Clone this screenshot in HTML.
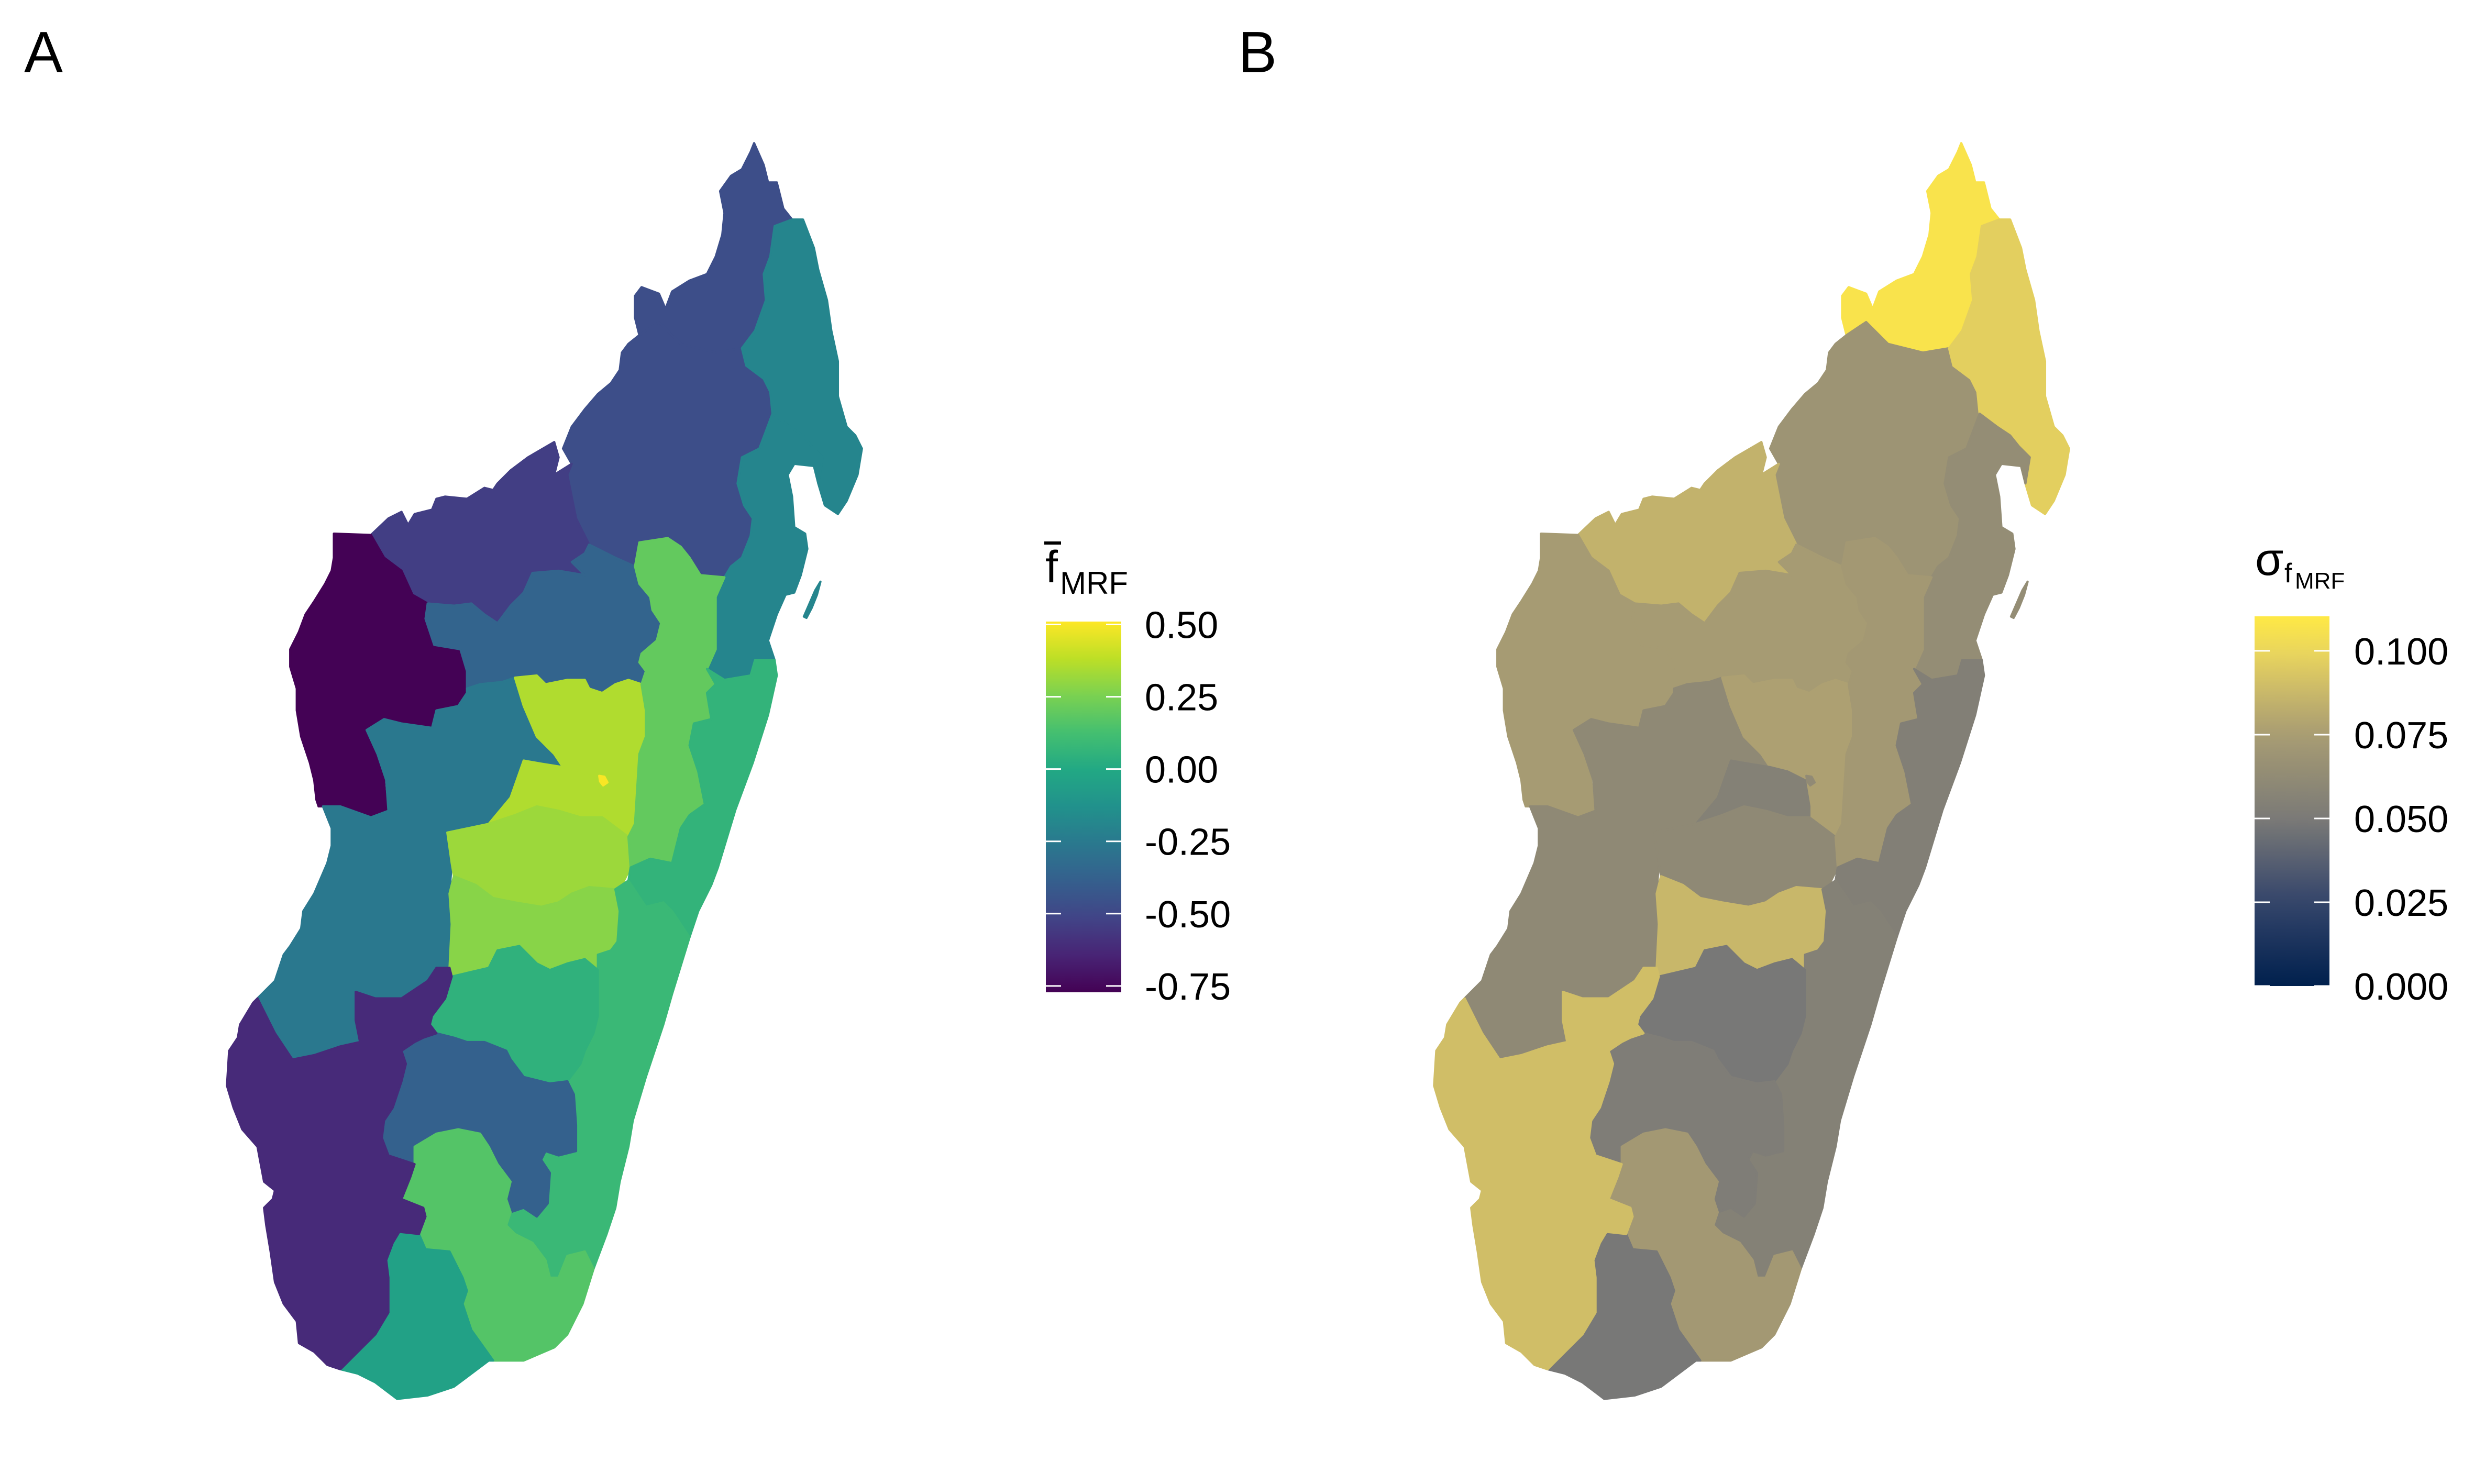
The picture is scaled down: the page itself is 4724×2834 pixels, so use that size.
<!DOCTYPE html>
<html><head><meta charset="utf-8"><style>
html,body{margin:0;padding:0;background:#fff;}
svg{display:block;}
text{font-family:"Liberation Sans",Arial,sans-serif;fill:#000;}
</style></head><body>
<svg id="fig" width="4724" height="2834" viewBox="0 0 4724 2834" xmlns="http://www.w3.org/2000/svg">
<rect width="4724" height="2834" fill="#fff"/>
<text x="46" y="138" font-size="111">A</text>
<text x="2364" y="138" font-size="111">B</text>
<g id="mapA" transform="translate(400,240) scale(0.8333)"></g>
<g id="mapB" transform="translate(2705,240) scale(0.8333)"></g>
<defs>
<linearGradient id="gradA" x1="0" y1="1" x2="0" y2="0"></linearGradient>
<linearGradient id="gradB" x1="0" y1="1" x2="0" y2="0"></linearGradient>
</defs>
<g>
<text x="1996" y="1112" font-size="86">f</text>
<rect x="1994" y="1034" width="32" height="6" fill="#000"/>
<text x="2024" y="1134" font-size="60">MRF</text>
<rect id="barA" x="1997" y="1187" width="144" height="708" fill="url(#gradA)"/>
<g id="ticksA"></g>
</g>
<g>
<text x="4306" y="1098" font-size="88">σ</text>
<text x="4362" y="1112" font-size="52">f</text>
<text x="4382" y="1124" font-size="44">MRF</text>
<rect id="barB" x="4305" y="1177" width="143" height="706" fill="url(#gradB)"/>
<g id="ticksB"></g>
</g>
</svg>
<script>
// ---- data ----
const regionNames = ["diana","sofia","sava","analanjirofo","boeny","melaky","betsiboka","menabe","vakinankaratra","vakinankaratra-south","analamanga-south","amoron-i-mania","alaotra-mangoro","atsinanana","vatovavy","haute-matsiatra","ihorombe","atsimo-atsinanana","anosy","atsimo-andrefana","urban-spot","nosy-boraha"];
const meanValues = [-0.47,-0.47,-0.195,-0.19,-0.54,-0.77,-0.36,-0.26,0.356,0.356,0.318,0.28,0.20,0.06,0.087,0.05,-0.375,0.164,-0.041,-0.618,0.50,-0.19];
const sdValues = [0.107,0.069,0.097,0.064,0.085,0.074,0.074,0.061,0.077,0.055,0.061,0.087,0.072,0.054,0.055,0.049,0.052,0.072,0.049,0.090,0.062,0.064];
const meanTicks = [0.50,0.25,0.00,-0.25,-0.50,-0.75];
const meanTickLabels = ["0.50","0.25","0.00","-0.25","-0.50","-0.75"];
const sdTicks = [0.100,0.075,0.050,0.025,0.000];
const sdTickLabels = ["0.100","0.075","0.050","0.025","0.000"];
const meanDomain = [-0.772, 0.51];
const sdDomain = [0.0, 0.1103];

// ---- geometry (map units) ----
const shapes = [
[[985,480],[975,440],[975,390],[990,370],[1030,385],[1045,420],[1060,380],[1100,355],[1140,340],[1160,300],[1175,250],[1180,200],[1170,150],[1195,115],[1220,100],[1240,60],[1248,40],[1270,90],[1280,130],[1300,130],[1315,190],[1335,215],[1295,230],[1285,300],[1270,340],[1275,400],[1250,470],[1220,510],[1160,520],[1080,500],[1030,450]],
[[985,480],[1030,450],[1080,500],[1160,520],[1220,510],[1230,550],[1270,580],[1285,610],[1290,660],[1275,700],[1260,740],[1220,760],[1210,820],[1225,870],[1245,900],[1240,940],[1220,990],[1195,1010],[1180,1035],[1125,1030],[1100,990],[1080,965],[1050,945],[985,955],[975,1010],[930,990],[870,960],[840,900],[830,850],[820,800],[830,775],[810,740],[830,690],[860,650],[890,615],[920,590],[940,560],[945,520],[960,500]],
[[1335,215],[1360,215],[1385,280],[1395,330],[1415,400],[1425,470],[1440,540],[1440,620],[1460,690],[1480,710],[1495,740],[1485,800],[1460,860],[1440,890],[1410,870],[1395,820],[1405,760],[1380,735],[1360,710],[1330,690],[1290,660],[1285,610],[1270,580],[1230,550],[1220,510],[1250,470],[1275,400],[1270,340],[1285,300],[1295,230]],
[[1290,660],[1330,690],[1360,710],[1380,735],[1405,760],[1395,820],[1385,780],[1340,775],[1325,800],[1335,850],[1340,920],[1365,935],[1370,970],[1355,1030],[1340,1070],[1320,1075],[1300,1120],[1280,1180],[1295,1225],[1250,1225],[1240,1260],[1180,1270],[1140,1245],[1160,1200],[1160,1080],[1180,1035],[1195,1010],[1220,990],[1240,940],[1245,900],[1225,870],[1210,820],[1220,760],[1260,740],[1275,700]],
[[370,938],[410,900],[440,885],[455,915],[470,890],[510,880],[520,855],[540,850],[590,855],[630,830],[650,835],[660,820],[690,790],[730,760],[790,725],[800,760],[790,800],[830,775],[820,800],[830,850],[840,900],[870,960],[860,980],[830,1000],[860,1030],[800,1020],[740,1025],[720,1070],[690,1100],[660,1140],[630,1120],[600,1095],[560,1100],[500,1095],[465,1075],[440,1020],[400,990]],
[[285,935],[370,938],[400,990],[440,1020],[465,1075],[500,1095],[495,1130],[515,1190],[575,1200],[590,1250],[590,1300],[570,1330],[520,1340],[510,1380],[440,1370],[400,1360],[360,1385],[385,1440],[400,1500],[405,1560],[410,1570],[370,1585],[300,1560],[250,1560],[245,1545],[240,1500],[230,1460],[210,1400],[200,1340],[200,1290],[185,1240],[185,1200],[205,1160],[220,1120],[240,1090],[265,1050],[280,1020],[285,990]],
[[500,1095],[560,1100],[600,1095],[630,1120],[660,1140],[690,1100],[720,1070],[740,1025],[800,1020],[860,1030],[830,1000],[860,980],[870,960],[930,990],[975,1010],[985,1050],[1010,1080],[1015,1110],[1035,1140],[1025,1180],[990,1210],[985,1230],[1000,1250],[990,1280],[960,1270],[930,1280],[900,1300],[870,1290],[860,1270],[820,1270],[770,1280],[750,1260],[700,1265],[670,1275],[620,1280],[590,1290],[590,1250],[575,1200],[515,1190],[495,1130]],
[[590,1290],[620,1280],[670,1275],[700,1265],[720,1330],[750,1400],[790,1440],[810,1470],[760,1470],[720,1455],[690,1540],[640,1600],[545,1620],[555,1690],[550,1760],[555,1830],[550,1930],[520,1930],[500,1960],[440,2000],[380,2000],[335,1985],[335,2050],[345,2100],[300,2110],[240,2130],[190,2140],[150,2080],[120,2020],[110,2000],[130,1980],[150,1960],[170,1900],[185,1880],[210,1840],[215,1800],[240,1760],[270,1690],[280,1650],[280,1610],[260,1560],[300,1560],[370,1585],[410,1570],[405,1500],[385,1440],[360,1385],[400,1360],[440,1370],[510,1380],[520,1340],[570,1330],[590,1300]],
[[700,1265],[750,1260],[770,1280],[820,1270],[860,1270],[870,1290],[900,1300],[930,1280],[960,1270],[990,1280],[1000,1340],[1000,1400],[985,1440],[980,1520],[975,1600],[960,1630],[900,1585],[850,1585],[800,1570],[750,1560],[700,1580],[640,1600],[690,1540],[720,1455],[760,1470],[810,1470],[790,1440],[750,1400],[720,1330]],
[[720,1455],[760,1462],[810,1470],[850,1480],[890,1500],[900,1560],[900,1585],[850,1585],[800,1570],[750,1560],[700,1580],[640,1600],[690,1540]],
[[545,1620],[640,1600],[700,1580],[750,1560],[800,1570],[850,1585],[900,1585],[960,1630],[965,1700],[945,1740],[930,1750],[870,1745],[830,1760],[800,1780],[760,1790],[700,1780],[650,1770],[610,1740],[560,1720],[555,1690]],
[[560,1720],[610,1740],[650,1770],[700,1780],[760,1790],[800,1780],[830,1760],[870,1745],[930,1750],[940,1800],[935,1870],[920,1890],[890,1900],[890,1935],[860,1910],[820,1920],[780,1935],[750,1920],[710,1880],[660,1890],[640,1930],[555,1950],[550,1930],[555,1830],[550,1760]],
[[985,955],[1050,945],[1080,965],[1100,990],[1125,1030],[1180,1035],[1160,1080],[1160,1200],[1140,1245],[1160,1280],[1140,1300],[1150,1360],[1110,1370],[1100,1420],[1120,1480],[1135,1555],[1100,1580],[1080,1610],[1060,1690],[1010,1680],[965,1700],[960,1630],[975,1600],[980,1520],[985,1440],[1000,1400],[1000,1340],[990,1280],[1000,1250],[985,1230],[990,1210],[1025,1180],[1035,1140],[1015,1110],[1010,1080],[985,1050],[975,1010]],
[[1140,1245],[1180,1270],[1240,1260],[1250,1225],[1295,1225],[1300,1260],[1280,1350],[1245,1460],[1205,1568],[1165,1700],[1150,1740],[1120,1800],[1100,1860],[1060,1800],[1040,1780],[1000,1790],[960,1730],[965,1700],[1010,1680],[1060,1690],[1080,1610],[1100,1580],[1135,1555],[1120,1480],[1100,1420],[1110,1370],[1150,1360],[1140,1300],[1160,1280]],
[[1100,1860],[1060,1990],[1040,2060],[1000,2180],[970,2280],[960,2340],[940,2420],[930,2480],[910,2540],[880,2620],[860,2580],[820,2590],[800,2640],[780,2640],[770,2600],[740,2560],[700,2540],[680,2520],[690,2490],[720,2480],[750,2500],[775,2470],[780,2400],[760,2370],[770,2350],[800,2360],[840,2350],[840,2290],[835,2220],[820,2190],[850,2150],[860,2120],[880,2080],[890,2040],[890,1935],[890,1900],[920,1890],[935,1870],[940,1800],[930,1750],[960,1730],[1000,1790],[1040,1780],[1060,1800]],
[[555,1950],[640,1930],[660,1890],[710,1880],[750,1920],[780,1935],[820,1920],[860,1910],[890,1935],[890,2040],[880,2080],[860,2120],[850,2150],[820,2190],[780,2195],[720,2180],[690,2140],[680,2120],[630,2100],[590,2100],[560,2090],[520,2080],[505,2060],[510,2040],[540,2000]],
[[520,2080],[560,2090],[590,2100],[630,2100],[680,2120],[690,2140],[720,2180],[780,2195],[820,2190],[835,2220],[840,2290],[840,2350],[800,2360],[770,2350],[760,2370],[780,2400],[775,2470],[750,2500],[720,2480],[690,2490],[680,2460],[690,2420],[660,2380],[640,2340],[620,2310],[570,2300],[520,2310],[470,2340],[470,2380],[410,2360],[395,2320],[400,2280],[420,2250],[440,2190],[450,2150],[440,2120],[470,2100],[490,2090]],
[[470,2340],[520,2310],[570,2300],[620,2310],[640,2340],[660,2380],[690,2420],[680,2460],[690,2490],[680,2520],[700,2540],[740,2560],[770,2600],[780,2640],[800,2640],[820,2590],[860,2580],[880,2620],[855,2700],[820,2770],[790,2800],[720,2830],[650,2830],[600,2760],[580,2700],[590,2670],[580,2640],[560,2600],[550,2580],[495,2575],[480,2540],[495,2500],[490,2480],[440,2460],[460,2410],[470,2380]],
[[435,2535],[480,2540],[495,2575],[550,2580],[560,2600],[580,2640],[590,2670],[580,2700],[600,2760],[650,2830],[640,2830],[560,2890],[500,2910],[430,2918],[380,2880],[340,2860],[300,2850],[340,2810],[380,2770],[410,2720],[410,2640],[405,2600],[420,2560]],
[[110,2000],[120,2020],[150,2080],[190,2140],[240,2130],[300,2110],[345,2100],[335,2050],[335,1985],[380,2000],[440,2000],[500,1960],[520,1930],[550,1930],[555,1950],[540,2000],[510,2040],[505,2060],[520,2080],[490,2090],[470,2100],[440,2120],[450,2150],[440,2190],[420,2250],[400,2280],[395,2320],[410,2360],[470,2380],[460,2410],[440,2460],[490,2480],[495,2500],[480,2540],[435,2535],[420,2560],[405,2600],[410,2640],[410,2720],[380,2770],[340,2810],[300,2850],[270,2840],[240,2810],[205,2790],[200,2740],[170,2700],[150,2650],[140,2580],[130,2520],[125,2480],[145,2460],[150,2440],[125,2420],[110,2340],[75,2300],[55,2250],[40,2200],[45,2120],[65,2090],[70,2060],[100,2010]],
[[893,1490],[905,1492],[912,1505],[902,1512],[895,1503]],
[[1400,1045],[1392,1075],[1380,1105],[1368,1128],[1362,1125],[1375,1095],[1388,1065]]
];

// ---- colormaps ----
const viridisStops=[[0,"#440154"],[0.1,"#482475"],[0.2,"#414487"],[0.3,"#355f8d"],[0.4,"#2a788e"],[0.5,"#21918c"],[0.6,"#22a884"],[0.7,"#44bf70"],[0.8,"#7ad151"],[0.9,"#bddf26"],[1,"#fde725"]];
const cividisStops=[[0,"#00204d"],[0.227,"#34456b"],[0.453,"#7b7a77"],[0.68,"#a89c73"],[0.79,"#c8b76a"],[0.907,"#ebd75c"],[1,"#ffe945"]];
function hex2rgb(h){return [1,3,5].map(i=>parseInt(h.substr(i,2),16));}
function cmap(stops,t){t=Math.max(0,Math.min(1,t));for(let i=1;i<stops.length;i++){if(t<=stops[i][0]){const a=stops[i-1],b=stops[i];const f=(t-a[0])/(b[0]-a[0]);const ca=hex2rgb(a[1]),cb=hex2rgb(b[1]);const c=ca.map((v,k)=>Math.round(v+(cb[k]-v)*f));return "rgb("+c.join(",")+")";}}return stops[stops.length-1][1];}
function scaleT(dom,v){return (v-dom[0])/(dom[1]-dom[0]);}

const NS="http://www.w3.org/2000/svg";
function drawMap(gid,values,stops,dom,prefix){
  const g=document.getElementById(gid);
  shapes.forEach((pts,i)=>{
    const p=document.createElementNS(NS,"path");
    p.setAttribute("d","M"+pts.map(q=>q[0]+","+q[1]).join("L")+"Z");
    const col=cmap(stops,scaleT(dom,values[i]));
    p.setAttribute("fill",col);
    p.setAttribute("stroke",col);
    p.setAttribute("stroke-width","5");
    p.setAttribute("stroke-linejoin","round");
    
    
    g.appendChild(p);
  });
}
drawMap("mapA",meanValues,viridisStops,meanDomain,"mean");
drawMap("mapB",sdValues,cividisStops,sdDomain,"sd");

function grad(id,stops){
  const gr=document.getElementById(id);
  for(let i=0;i<=20;i++){const t=i/20;const s=document.createElementNS(NS,"stop");s.setAttribute("offset",t);s.setAttribute("stop-color",cmap(stops,t));gr.appendChild(s);}
}
grad("gradA",viridisStops);grad("gradB",cividisStops);

function ticks(gid,barId,vals,labels,dom,labelX,prefix){
  const g=document.getElementById(gid);const bar=document.getElementById(barId);
  const x=+bar.getAttribute("x"),w=+bar.getAttribute("width"),y=+bar.getAttribute("y"),h=+bar.getAttribute("height");
  vals.forEach((v,i)=>{
    const yy=y+h-scaleT(dom,v)*h;
    [[x,x+29],[x+w-29,x+w]].forEach(s=>{
      const l=document.createElementNS(NS,"line");
      l.setAttribute("x1",s[0]);l.setAttribute("x2",s[1]);l.setAttribute("y1",yy);l.setAttribute("y2",yy);
      l.setAttribute("stroke","#fff");l.setAttribute("stroke-width","3");
      
      
      g.appendChild(l);
    });
    const t=document.createElementNS(NS,"text");
    t.setAttribute("x",labelX);t.setAttribute("y",yy+26);t.setAttribute("font-size","72");
    t.textContent=labels[i];
    
    
    g.appendChild(t);
  });
}
ticks("ticksA","barA",meanTicks,meanTickLabels,meanDomain,2186,"legend-mean");
ticks("ticksB","barB",sdTicks,sdTickLabels,sdDomain,4495,"legend-sd");
</script>
</body></html>
